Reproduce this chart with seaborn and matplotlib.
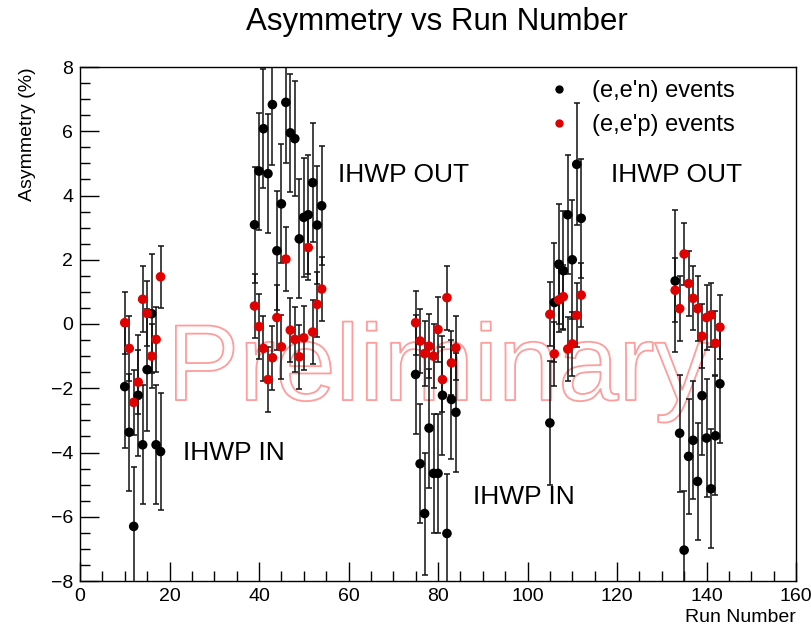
import pandas as pd
import seaborn as sns
import matplotlib.pyplot as plt
import matplotlib.patheffects as pe
from matplotlib.lines import Line2D
from matplotlib.ticker import MultipleLocator

# --- dati ---
runs = [10, 11, 12, 13, 14, 15, 16, 17, 18,
        39, 40, 41, 42, 43, 44, 45, 46, 47, 48, 49, 50, 51, 52, 53, 54,
        75, 76, 77, 78, 79, 80, 81, 82, 83, 84,
        105, 106, 107, 108, 109, 110, 111, 112,
        133, 134, 135, 136, 137, 138, 139, 140, 141, 142, 143]

asym_en = [-1.95, -3.37, -6.30, -2.22, -3.76, -1.42, 0.32, -3.76, -3.97,
           3.09, 4.76, 6.08, 4.68, 6.83, 2.28, 3.74, 6.90, 5.95, 5.77, 2.65, 3.32, 3.40, 4.40, 3.08, 3.68,
           -1.57, -4.35, -5.90, -3.24, -4.65, -4.65, -2.22, -6.52, -2.35, -2.75,
           -3.08, 0.67, 1.86, 1.66, 3.40, 2.00, 4.97, 3.29,
           1.34, -3.40, -7.04, -4.12, -3.62, -4.90, -2.23, -3.55, -5.13, -3.48, -1.86]

err_en = [1.90, 1.82, 1.85, 1.88, 1.85, 1.90, 1.85, 1.85, 1.82,
          1.80, 1.82, 1.85, 1.85, 1.88, 1.85, 1.85, 1.90, 1.83, 1.80, 1.85, 1.86, 1.85, 1.86, 1.85, 1.85,
          1.85, 1.85, 1.90, 1.85, 1.85, 1.85, 1.85, 1.86, 1.85, 1.85,
          1.92, 1.85, 1.86, 1.85, 1.85, 1.85, 1.90, 1.85,
          2.20, 1.82, 1.85, 1.80, 1.84, 1.82, 1.85, 1.85, 1.85, 1.85, 1.85]

asym_ep = [0.04, -0.76, -2.44, -1.81, 0.77, 0.33, -1.00, -0.48, 1.47,
           0.56, -0.08, -0.76, -1.73, -1.05, 0.20, -0.71, 2.02, -0.19, -0.48, -1.02, -0.43, 2.38, -0.25, 0.61, 1.09,
           0.04, -0.53, -0.92, -0.69, -1.00, -0.17, -1.73, 0.82, -1.21, -0.74,
           0.30, -0.93, 0.75, 0.85, -0.78, -0.62, 0.27, 0.90,
           1.05, 0.48, 2.18, 1.26, 0.80, 0.48, -0.38, 0.20, 0.28, -0.60, -0.10]

err_ep = [0.97, 1.00, 1.00, 1.00, 1.02, 1.00, 1.00, 1.00, 0.97,
          1.00, 1.00, 1.00, 1.00, 1.00, 1.00, 1.00, 1.00, 1.00, 1.00, 1.00, 1.00, 1.00, 1.00, 1.00, 1.00,
          1.00, 1.00, 1.00, 1.00, 1.00, 1.00, 1.00, 1.00, 1.00, 1.00,
          1.00, 1.00, 1.00, 1.00, 1.00, 1.00, 1.00, 1.00,
          1.00, 1.00, 0.97, 1.00, 1.00, 1.00, 1.00, 1.00, 1.00, 1.00, 1.00]

etichette = ["(e,e'n) events", "(e,e'p) events"]
colori = {etichette[0]: 'black', etichette[1]: '#e00000'}

# testi di stato IHWP: (x, y, testo)
note_ihwp = [(23.0, -4.0, 'IHWP IN'), (57.7, 4.64, 'IHWP OUT'),
             (87.8, -5.4, 'IHWP IN'), (118.7, 4.64, 'IHWP OUT')]

df = pd.concat([
    pd.DataFrame({'run': runs, 'asym': asym_en, 'err': err_en, 'serie': etichette[0]}),
    pd.DataFrame({'run': runs, 'asym': asym_ep, 'err': err_ep, 'serie': etichette[1]}),
], ignore_index=True)

# --- stile ---
sns.set_theme(style='white')
plt.rcParams['font.family'] = ['Liberation Sans', 'DejaVu Sans']
plt.rcParams['text.color'] = 'black'

fig = plt.figure(figsize=(8.11, 6.26), dpi=100)
ax = fig.add_axes([80 / 811, 45 / 626, 716 / 811, 514 / 626])

# watermark
ax.text(0.5, 0.352, 'Preliminary', transform=ax.transAxes, ha='center', va='baseline',
        fontsize=78, color='none', zorder=1,
        path_effects=[pe.Stroke(linewidth=1.3, foreground='#ff9c9c')])

for serie in etichette:
    d = df[df['serie'] == serie]
    ax.errorbar(d['run'], d['asym'], yerr=d['err'], fmt='none', ecolor='#111111',
                elinewidth=1.1, capsize=2.5, capthick=1.1, zorder=2)
    sns.scatterplot(data=d, x='run', y='asym', color=colori[serie], s=48,
                    edgecolor='none', ax=ax, zorder=3, legend=False)

for x, y, t in note_ihwp:
    ax.text(x, y, t, fontsize=19, ha='left', va='center', color='black')

ax.set_xlim(0, 160)
ax.set_ylim(-8, 8)
ax.xaxis.set_major_locator(MultipleLocator(20))
ax.xaxis.set_minor_locator(MultipleLocator(5))
ax.yaxis.set_major_locator(MultipleLocator(2))
ax.yaxis.set_minor_locator(MultipleLocator(0.5))
ax.tick_params(which='both', direction='in', bottom=True, left=True, top=False, right=False,
               color='black', width=1, labelsize=14, labelcolor='black')
ax.tick_params(which='major', length=14, pad=5)
ax.tick_params(which='minor', length=7.5)
for sp in ax.spines.values():
    sp.set_color('black')
    sp.set_linewidth(1)

ax.set_xlabel('Run Number', fontsize=14, loc='right', color='black')
ax.xaxis.set_label_coords(1.0, -0.055)
ax.set_ylabel('Asymmetry (%)', fontsize=14, loc='top', color='black')
ax.yaxis.set_label_coords(-0.062, 1.0)

fig.text(0.539, 0.965, 'Asymmetry vs Run Number', ha='center', va='center',
         fontsize=22.5, color='black')

maniglie = [Line2D([], [], ls='none', marker='o', markersize=6, color=colori[s],
                   markeredgewidth=0) for s in etichette]
ax.legend(maniglie, etichette, loc='upper left', bbox_to_anchor=(547 / 811, 1 - 80 / 626),
          bbox_transform=fig.transFigure, frameon=False, fontsize=17, borderpad=0,
          borderaxespad=0, handlelength=1.0, handletextpad=0.9, labelspacing=0.5)

plt.savefig('out.png', dpi=100)
